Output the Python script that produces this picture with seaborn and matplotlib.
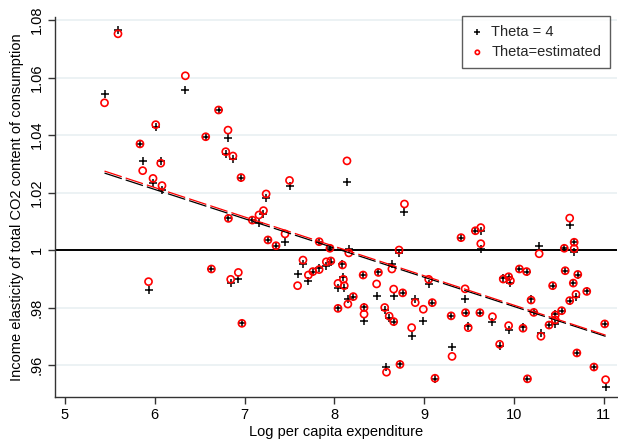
import matplotlib
matplotlib.use("Agg")
import matplotlib.pyplot as plt
import pandas as pd
import seaborn as sns

# Log per capita expenditure and the income elasticity under two theta assumptions
log_exp = [5.44, 5.59, 5.835, 5.865, 5.93, 5.98, 6.01, 6.066, 6.08, 6.34,
           6.567, 6.63, 6.71, 6.79, 6.815, 6.82, 6.845, 6.87, 6.93, 6.96,
           6.97, 7.086, 7.16, 7.21, 7.24, 7.26, 7.35, 7.45, 7.50, 7.59,
           7.65, 7.71, 7.76, 7.83, 7.83, 7.91, 7.96, 7.95, 8.04, 8.04,
           8.09, 8.10, 8.11, 8.14, 8.15, 8.16, 8.21, 8.32, 8.33, 8.33,
           8.47, 8.49, 8.56, 8.58, 8.61, 8.64, 8.66, 8.66, 8.72, 8.73,
           8.76, 8.78, 8.86, 8.90, 8.99, 9.05, 9.09, 9.12, 9.30, 9.31,
           9.41, 9.455, 9.46, 9.49, 9.57, 9.63, 9.63, 9.62, 9.76, 9.84,
           9.88, 9.94, 9.96, 9.94, 10.06, 10.14, 10.10, 10.15, 10.19, 10.22,
           10.28, 10.30, 10.39, 10.46, 10.46, 10.43, 10.53, 10.56, 10.57, 10.62,
           10.62, 10.66, 10.67, 10.67, 10.69, 10.71, 10.70, 10.81, 10.89, 11.01,
           11.02]

elast_theta4 = [1.0542, 1.0765, 1.0369, 1.0310, 0.9861, 1.0232, 1.0428, 1.0310, 1.0209, 1.0557,
                1.0394, 0.9934, 1.0487, 1.0334, 1.0389, 1.0110, 0.9886, 1.0315, 0.9899, 1.0252,
                0.9745, 1.0104, 1.0093, 1.0125, 1.0180, 1.0035, 1.0015, 1.0029, 1.0223, 0.9916,
                0.9951, 0.9891, 0.9922, 0.9939, 1.0029, 0.9944, 0.9959, 1.0006, 0.9869, 0.9797,
                0.9952, 0.9905, 0.9869, 1.0238, 0.9829, 1.0002, 0.9838, 0.9913, 0.9803, 0.9754,
                0.9841, 0.9922, 0.9791, 0.9592, 0.9762, 0.9951, 0.9840, 0.9748, 0.9990, 0.9602,
                0.9851, 1.0131, 0.9702, 0.9830, 0.9754, 0.9881, 0.9817, 0.9552, 0.9771, 0.9662,
                1.0043, 0.9829, 0.9782, 0.9735, 1.0067, 1.0065, 1.0002, 0.9782, 0.9749, 0.9665,
                0.9902, 0.9905, 0.9885, 0.9722, 0.9934, 0.9925, 0.9731, 0.9552, 0.9828, 0.9783,
                1.0015, 0.9710, 0.9739, 0.9776, 0.9743, 0.9876, 0.9789, 1.0006, 0.9928, 0.9824,
                1.0088, 0.9885, 1.0027, 0.9993, 0.9836, 0.9912, 0.9642, 0.9856, 0.9593, 0.9743,
                0.9525]

elast_est = [1.0512, 1.0752, 1.0369, 1.0276, 0.9890, 1.0249, 1.0436, 1.0302, 1.0224, 1.0606,
             1.0394, 0.9934, 1.0487, 1.0342, 1.0417, 1.0110, 0.9898, 1.0327, 0.9922, 1.0252,
             0.9745, 1.0104, 1.0122, 1.0137, 1.0195, 1.0035, 1.0015, 1.0056, 1.0242, 0.9876,
             0.9965, 0.9913, 0.9925, 0.9932, 1.0029, 0.9959, 0.9962, 1.0006, 0.9884, 0.9797,
             0.9948, 0.9898, 0.9876, 1.0310, 0.9812, 0.9990, 0.9838, 0.9913, 0.9800, 0.9777,
             0.9882, 0.9922, 0.9800, 0.9575, 0.9770, 0.9934, 0.9864, 0.9751, 1.0000, 0.9602,
             0.9851, 1.0160, 0.9730, 0.9817, 0.9794, 0.9898, 0.9817, 0.9554, 0.9771, 0.9630,
             1.0043, 0.9865, 0.9782, 0.9730, 1.0067, 1.0078, 1.0022, 0.9782, 0.9768, 0.9672,
             0.9899, 0.9907, 0.9893, 0.9737, 0.9934, 0.9925, 0.9728, 0.9552, 0.9826, 0.9783,
             0.9987, 0.9700, 0.9739, 0.9774, 0.9757, 0.9876, 0.9789, 1.0006, 0.9928, 0.9824,
             1.0111, 0.9885, 1.0027, 1.0005, 0.9846, 0.9915, 0.9642, 0.9856, 0.9593, 0.9743,
             0.9549]

series_names = ["Theta = 4", "Theta=estimated"]
x_ticks = [5, 6, 7, 8, 9, 10, 11]
y_ticks = [0.96, 0.98, 1.00, 1.02, 1.04, 1.06, 1.08]
y_tick_labels = [".96", ".98", "1", "1.02", "1.04", "1.06", "1.08"]

df = pd.DataFrame({"logexp": log_exp, "theta4": elast_theta4, "est": elast_est})

sns.set_theme(style="ticks")
plt.rcParams["font.family"] = ["Liberation Sans", "DejaVu Sans"]

fig = plt.figure(figsize=(6.18, 4.43), dpi=100)
ax = fig.add_axes([0.0890, 0.1038, 0.9094, 0.8578])

ax.set_xlim(4.8886, 11.147)
ax.set_ylim(0.94887, 1.08104)

# light horizontal grid, reference line at unit elasticity
for yv in y_ticks:
    if yv != 1.0:
        ax.axhline(yv, color="#e9f0f2", lw=1.2, zorder=0)
ax.axhline(1.0, color="black", lw=1.4, zorder=1)

sns.scatterplot(data=df, x="logexp", y="theta4", marker="+", color="black",
                s=38, linewidth=1.1, ax=ax, zorder=3, label=series_names[0])
sns.scatterplot(data=df, x="logexp", y="est", marker="o", facecolors="none",
                edgecolor="red", s=26, linewidth=1.2, ax=ax, zorder=4,
                label=series_names[1])

# fitted linear trends (thin, long dashes)
trend_style = dict(lw=0.9, dashes=(14.5, 3.3))
sns.regplot(data=df, x="logexp", y="theta4", scatter=False, ci=None, ax=ax,
            color="black", line_kws=dict(trend_style, zorder=5))
sns.regplot(data=df, x="logexp", y="est", scatter=False, ci=None, ax=ax,
            color="red", line_kws=dict(trend_style, zorder=6))

ax.set_xticks(x_ticks)
ax.set_xticklabels([str(v) for v in x_ticks])
ax.set_yticks(y_ticks)
ax.set_yticklabels(y_tick_labels, rotation=90, va="center")
ax.tick_params(axis="both", direction="out", length=5, width=1, color="#333333",
               labelsize=10.5, labelcolor="black", pad=3, bottom=True, left=True)

for side in ["top", "right"]:
    ax.spines[side].set_visible(False)
for side in ["left", "bottom"]:
    ax.spines[side].set_color("#333333")
    ax.spines[side].set_linewidth(1)

ax.set_xlabel("Log per capita expenditure", fontsize=10.5, color="black", labelpad=2)
ax.set_ylabel("Income elasticity of total CO2 content of consumption", fontsize=10.5,
              color="black", labelpad=4)

leg = ax.legend(loc="upper right", bbox_to_anchor=(0.9875, 1.003), frameon=True,
                fancybox=False, edgecolor="#333333", fontsize=10.5, markerscale=0.6,
                handletextpad=0.5, borderpad=0.6, labelspacing=0.45, handlelength=0.9,
                borderaxespad=0)
leg.get_frame().set_linewidth(1)

fig.savefig("out.png", dpi=100)
